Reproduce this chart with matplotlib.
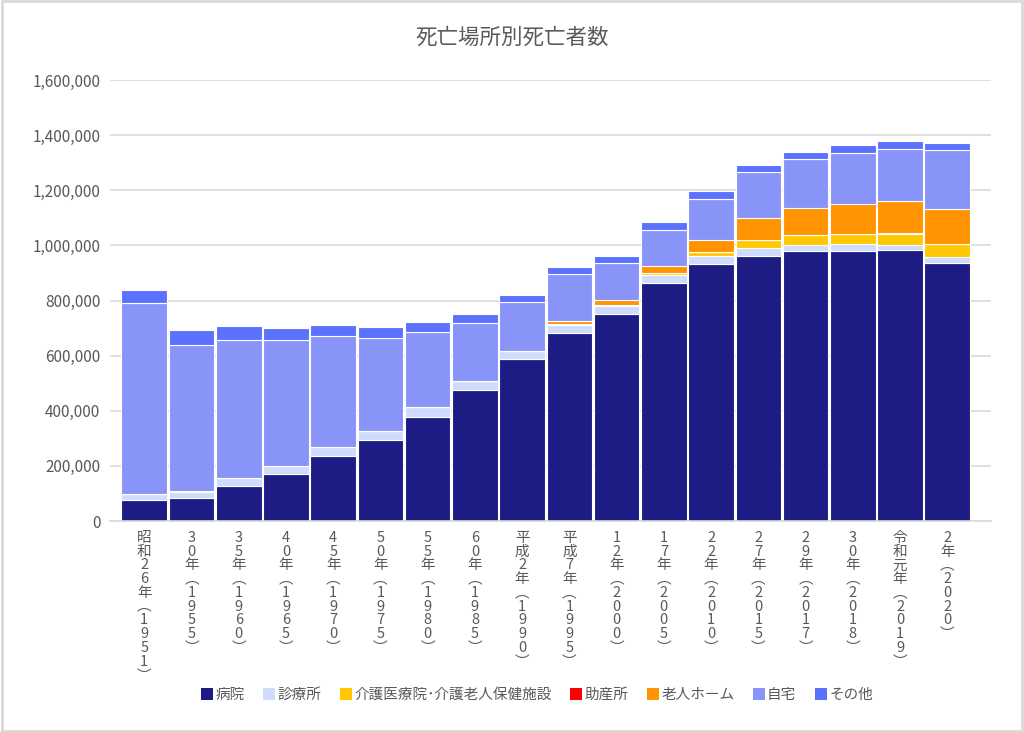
import matplotlib
matplotlib.use("Agg")
import matplotlib.pyplot as plt
from matplotlib.patches import Rectangle
from matplotlib.ticker import FuncFormatter
import numpy as np

plt.rcParams['font.family'] = ['Noto Sans CJK JP', 'DejaVu Sans']

categories = ["昭和26年(1951)", "30年(1955)", "35年(1960)", "40年(1965)", "45年(1970)",
              "50年(1975)", "55年(1980)", "60年(1985)", "平成2年(1990)", "平成7年(1995)",
              "12年(2000)", "17年(2005)", "22年(2010)", "27年(2015)", "29年(2017)",
              "30年(2018)", "令和元年(2019)", "2年(2020)"]

hospital = [75944, 85000, 128600, 172300, 234600, 293600, 376600, 474000, 587300, 683300,
            752000, 864900, 932500, 962700, 978500, 981000, 982000, 937600]
clinic = [21600, 21500, 26100, 27300, 32100, 34400, 35400, 32300, 27900, 27700,
          26900, 28200, 28700, 27100, 24100, 23200, 21000, 22000]
kaigo = [0, 0, 0, 0, 0, 0, 0, 0, 200, 1900,
         4800, 7600, 15600, 29700, 33500, 35400, 40000, 45300]
josan = [800, 700, 700, 700, 700, 300, 200, 100, 100, 100,
         100, 100, 100, 100, 100, 100, 100, 100]
rojin = [0, 0, 0, 0, 0, 0, 0, 0, 0, 13800,
         18300, 22800, 41900, 81300, 100500, 109000, 118000, 126300]
home = [692000, 533000, 499600, 455300, 403500, 335000, 274700, 213000, 178000, 168800,
        133700, 132200, 150800, 163900, 176900, 186700, 189000, 215500]
other = [48000, 53000, 51600, 44800, 42000, 39000, 35900, 33000, 26800, 26700,
         26900, 28200, 27500, 27100, 26800, 27200, 27000, 26000]

series_names = ["病院", "診療所", "介護医療院･介護老人保健施設", "助産所", "老人ホーム", "自宅", "その他"]
series_colors = ["#1c1c84", "#d0dcfc", "#ffc800", "#ff0000", "#ff9300", "#8894f8", "#5b72ff"]

text_color = "#595959"
grid_color = "#d9d9d9"

fig = plt.figure(figsize=(10.24, 7.32), dpi=100)
ax = fig.add_axes([110/1024, 1-521/732, (991-110)/1024, (521-80)/732])

x = np.arange(len(categories))
bottom = np.zeros(len(categories))
for name, vals, col in zip(series_names, [hospital, clinic, kaigo, josan, rojin, home, other], series_colors):
    v = np.array(vals, dtype=float)
    ax.bar(x, v, bottom=bottom, width=0.965, color=col, edgecolor="white", linewidth=0.8, label=name, zorder=3)
    bottom += v

ax.set_ylim(0, 1600000)
ax.set_yticks(np.arange(0, 1600001, 200000))
ax.yaxis.set_major_formatter(FuncFormatter(lambda v, p: f"{int(v):,}"))
ax.set_xlim(-0.725, 17.926)

def vertical(label):
    s = label.replace("(", "︵").replace(")", "︶")
    return "\n".join(list(s))

ax.set_xticks(x)
ax.set_xticklabels([vertical(c) for c in categories], va="top", ha="center",
                   multialignment="center", linespacing=0.98)
ax.tick_params(axis="x", length=0, pad=7, labelsize=10.5, colors=text_color)
ax.tick_params(axis="y", length=0, pad=7, labelsize=11, colors=text_color)

ax.grid(axis="y", color=grid_color, linewidth=1.2, zorder=0)
for s in ["top", "right", "left"]:
    ax.spines[s].set_visible(False)
ax.spines["bottom"].set_color(grid_color)
ax.spines["bottom"].set_linewidth(1.2)
ax.spines["bottom"].set_zorder(4)

fig.text(0.5, 1-38/732, "死亡場所別死亡者数", ha="center", va="center", fontsize=15.5, color=text_color)

handles, labels = ax.get_legend_handles_labels()
leg = fig.legend(handles, labels, loc="center", bbox_to_anchor=(537/1024, 1-695/732), ncol=7,
                 frameon=False, fontsize=10.5, handlelength=0.85, handleheight=0.85,
                 handletextpad=0.15, columnspacing=1.25, borderaxespad=0)
for t in leg.get_texts():
    t.set_color(text_color)
for h in leg.legend_handles:
    h.set_edgecolor("none")

fig.patches.append(Rectangle((0.0015, 0.002), 0.997, 0.996, transform=fig.transFigure,
                             fill=False, edgecolor="#d9d9d9", linewidth=2))

fig.savefig("out.png", dpi=100)
